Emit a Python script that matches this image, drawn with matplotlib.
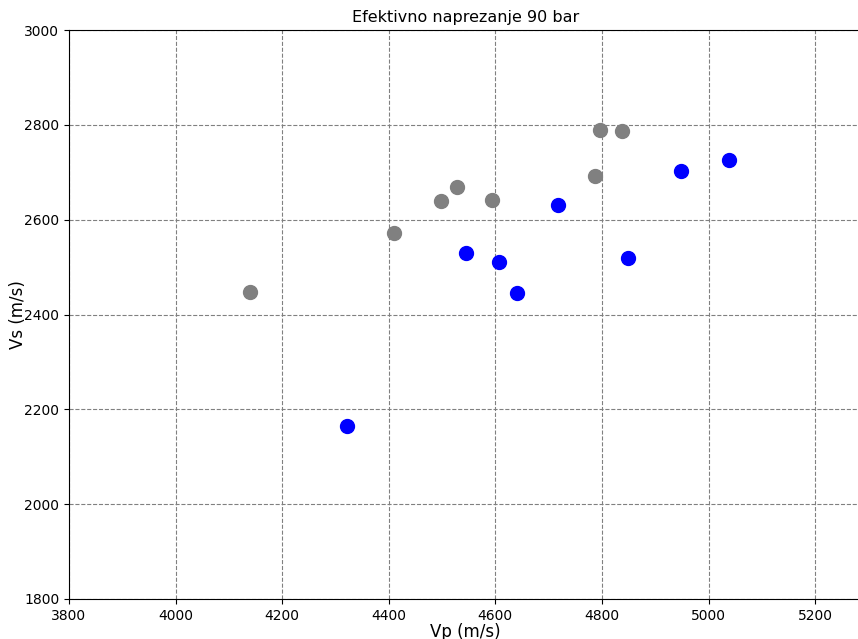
import numpy as np
import matplotlib.pyplot as plt

# uzorci - siva grupa
vp_sivo = [4140, 4410, 4498, 4528, 4593, 4787, 4796, 4838]
vs_sivo = [2448, 2572, 2640, 2668, 2641, 2692, 2789, 2787]

# uzorci - plava grupa
vp_plavo = [4321, 4545, 4607, 4640, 4717, 4849, 4948, 5038]
vs_plavo = [2165, 2530, 2510, 2445, 2630, 2520, 2703, 2726]

fig = plt.figure(figsize=(8.58, 6.39), dpi=100)
ax = fig.add_axes([69 / 858, 40 / 639, 793 / 858, 569 / 639])

ax.scatter(vp_sivo, vs_sivo, s=100, color='gray', zorder=3)
ax.scatter(vp_plavo, vs_plavo, s=100, color='blue', zorder=3)

ax.set_xlim(3800, 5288)
ax.set_ylim(1800, 3000)
ax.set_xticks(np.arange(3800, 5201, 200))
ax.set_yticks(np.arange(1800, 3001, 200))
ax.grid(True, linestyle='--', color='gray', linewidth=0.8)
ax.set_title("Efektivno naprezanje 90 bar", fontsize=11.5)
ax.set_xlabel("Vp (m/s)", fontsize=12, labelpad=0)
ax.set_ylabel("Vs (m/s)", fontsize=12, labelpad=-2)

fig.savefig("out.png", dpi=100)
